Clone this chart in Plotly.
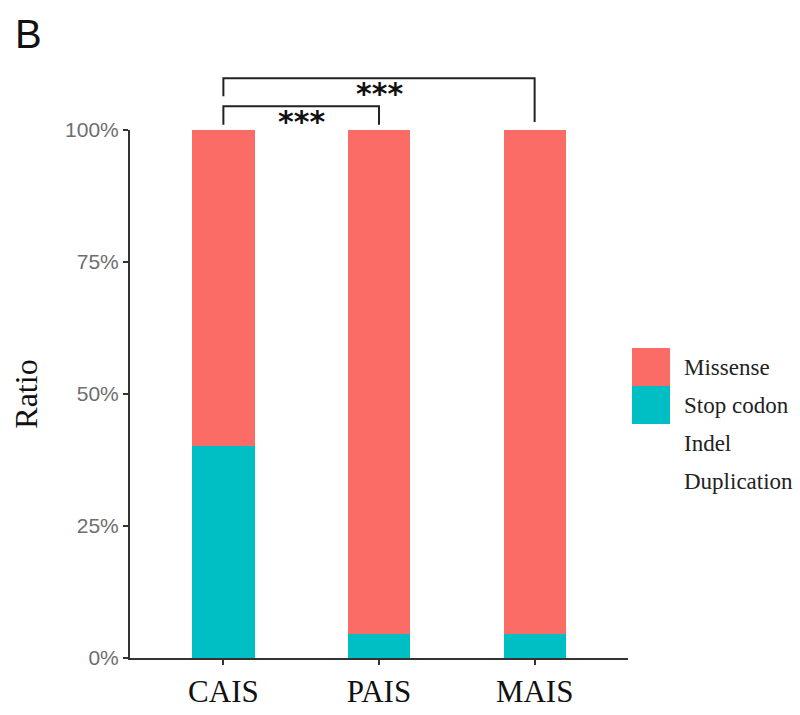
import plotly.graph_objects as go

# Mutation-type composition per group (percent of variants)
groups = ["CAIS", "PAIS", "MAIS"]
mutation_types = ["Missense", "Stop codon", "Indel", "Duplication"]
stop_codon = [40.2, 4.5, 4.5]
indel = [0.0, 0.0, 0.0]
duplication = [0.0, 0.0, 0.0]
missense = [100 - s - i - d for s, i, d in zip(stop_codon, indel, duplication)]

y_ticks = [0, 25, 50, 75, 100]
y_tick_labels = ["0%", "25%", "50%", "75%", "100%"]

# Significance comparisons: (group a, group b, bracket height %, left leg end %, right leg end %)
comparisons = [
    ("CAIS", "PAIS", 104.5, 101.0, 101.0, "***"),
    ("CAIS", "MAIS", 109.8, 106.4, 101.5, "***"),
]

colors = {
    "Missense": "#FC6C66",
    "Stop codon": "#00BFC4",
    "Indel": "rgba(0,0,0,0)",
    "Duplication": "rgba(0,0,0,0)",
}
series = {
    "Stop codon": stop_codon,
    "Indel": indel,
    "Duplication": duplication,
    "Missense": missense,
}

fig = go.Figure()
xidx = list(range(len(groups)))
for name in ["Stop codon", "Indel", "Duplication", "Missense"]:
    fig.add_trace(go.Bar(
        x=xidx, y=series[name], name=name, width=0.4,
        marker=dict(color=colors[name], line=dict(width=0)),
        showlegend=False,
    ))

Y0, Y1 = 0, 100
XR = [-0.6, 2.6]


def ypaper(v):
    return (v - Y0) / (Y1 - Y0)


def xpaper(i):
    return (i - XR[0]) / (XR[1] - XR[0])


shapes = []
annotations = []
for a, b, h, la, lb, lab in comparisons:
    xa, xb = xpaper(groups.index(a)), xpaper(groups.index(b))
    line = dict(color="#222222", width=2)
    path = f"M {xa} {ypaper(la)} L {xa} {ypaper(h)} L {xb} {ypaper(h)} L {xb} {ypaper(lb)}"
    shapes.append(dict(type="path", xref="paper", yref="paper", path=path, line=line))
    annotations.append(dict(
        x=(xa + xb) / 2, y=ypaper(h), xref="paper", yref="paper",
        text="<b>" + lab + "</b>", showarrow=False, yanchor="top", yshift=4,
        font=dict(family="DejaVu Sans", size=30, color="#111111"),
    ))

# Legend: filled key for types present, text for all levels
leg_x0, leg_key_w = 632, 38
leg_top = 348
row_h = 39
W, H = 800, 715
ml, mr, mt, mb = 130, 172, 130, 57
pw, ph = W - ml - mr, H - mt - mb


def px_to_paper(x, y):
    return (x - ml) / pw, (H - mb - y) / ph


for k, name in enumerate(mutation_types):
    ytop = leg_top + k * (row_h - 1)
    if name in ("Missense", "Stop codon"):
        x0p, y0p = px_to_paper(leg_x0, ytop)
        x1p, y1p = px_to_paper(leg_x0 + leg_key_w, ytop + row_h - 1)
        shapes.append(dict(type="rect", xref="paper", yref="paper",
                           x0=x0p, x1=x1p, y0=y1p, y1=y0p,
                           fillcolor=colors[name], line=dict(width=0)))
    tx, ty = px_to_paper(682, ytop + row_h / 2)
    annotations.append(dict(
        x=tx, y=ty, xref="paper", yref="paper", text=name, showarrow=False,
        xanchor="left", yanchor="middle",
        font=dict(family="Liberation Serif", size=23, color="#222222"),
    ))

# Panel letter
bx, by = px_to_paper(13, 10)
annotations.append(dict(
    x=bx, y=by, xref="paper", yref="paper", text="B", showarrow=False,
    xanchor="left", yanchor="top",
    font=dict(family="Liberation Sans", size=40, color="#111111"),
))

fig.update_layout(
    barmode="stack",
    width=W, height=H,
    margin=dict(l=ml, r=mr, t=mt, b=mb, autoexpand=False),
    plot_bgcolor="white", paper_bgcolor="white",
    shapes=shapes, annotations=annotations,
    showlegend=False,
    xaxis=dict(
        range=XR, tickvals=xidx, ticktext=groups, automargin=False,
        showline=True, linecolor="#333333", linewidth=2,
        ticks="outside", ticklen=5, tickwidth=2, tickcolor="#333333",
        showgrid=False, zeroline=False,
        tickfont=dict(family="Liberation Serif", size=31, color="#111111"),
    ),
    yaxis=dict(
        range=[Y0, Y1], tickvals=y_ticks, ticktext=y_tick_labels, automargin=False,
        showline=True, linecolor="#333333", linewidth=2,
        ticks="outside", ticklen=5, tickwidth=2, tickcolor="#333333",
        showgrid=False, zeroline=False,
        tickfont=dict(family="Liberation Sans", size=21, color="#6e6e6e"),
        title=dict(text="Ratio", standoff=18,
                   font=dict(family="Liberation Serif", size=32, color="#111111")),
    ),
)

fig.write_html("out.html")
